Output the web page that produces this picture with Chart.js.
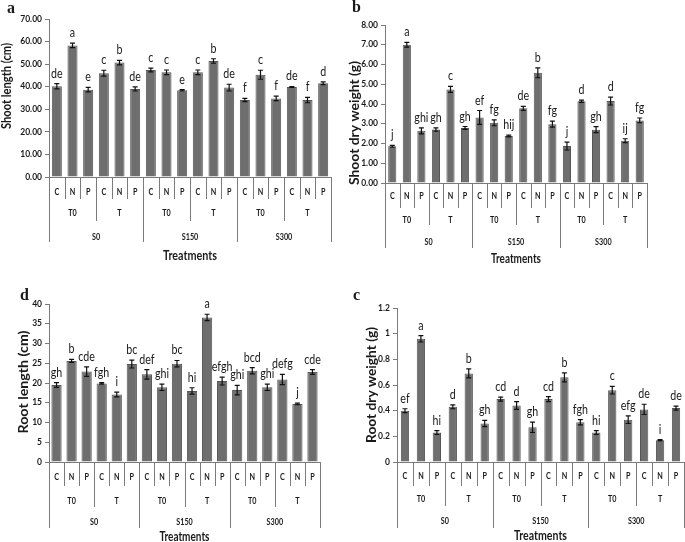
<!DOCTYPE html>
<html>
<head>
<meta charset="utf-8">
<script src="https://cdn.jsdelivr.net/npm/chart.js@4.4.1/dist/chart.umd.min.js"></script>
<style>
html,body{margin:0;padding:0;background:#fff;}
#wrap{position:relative;width:685px;height:542px;background:#fff;overflow:hidden;}
canvas{position:absolute;}
</style>
</head>
<body>
<div id="wrap">
<canvas id="pa" width="345" height="265" style="left:0;top:0"></canvas>
<canvas id="pb" width="340" height="265" style="left:345px;top:0"></canvas>
<canvas id="pd" width="345" height="272" style="left:0;top:270px"></canvas>
<canvas id="pc" width="340" height="272" style="left:345px;top:270px"></canvas>
</div>
<script>
// ---------- DATA ----------
const categories = ['C','N','P','C','N','P','C','N','P','C','N','P','C','N','P','C','N','P'];
const tLabels = ['T0','T','T0','T','T0','T'];
const sLabels = ['S0','S150','S300'];
const axisTitleX = 'Treatments';

// a: Shoot length (cm)
const shootLength      = [40.2,58.3,38.7,46.0,50.7,39.0,47.4,46.4,38.4,46.4,51.4,39.6,34.1,45.3,34.8,39.9,34.1,41.5];
const shootLengthErr   = [1.2,1.0,1.0,1.3,1.0,0.9,0.8,1.0,0.3,1.0,1.0,1.5,0.7,2.0,1.0,0.2,1.2,0.6];
const shootLengthSig   = ['de','a','e','c','b','de','c','c','e','c','b','de','f','c','f','de','f','d'];
const shootLengthTicks = [0,10,20,30,40,50,60,70];

// b: Shoot dry weight (g)
const shootDry      = [1.86,7.0,2.64,2.71,4.74,2.79,3.32,3.05,2.38,3.78,5.58,2.98,1.87,4.14,2.7,4.15,2.14,3.17];
const shootDryErr   = [0.05,0.12,0.15,0.08,0.15,0.07,0.35,0.15,0.04,0.1,0.25,0.15,0.2,0.06,0.15,0.2,0.1,0.12];
const shootDrySig   = ['j','a','ghi','gh','c','gh','ef','fg','hij','de','b','fg','j','d','gh','d','ij','fg'];
const shootDryTicks = [0,1,2,3,4,5,6,7,8];

// d: Root length (cm)
const rootLength      = [19.5,25.6,22.9,19.9,17.1,24.8,22.2,18.9,24.9,18.0,36.6,20.5,18.2,23.1,18.9,20.9,14.7,22.8];
const rootLengthErr   = [0.6,0.4,1.2,0.2,0.6,1.0,1.2,0.8,0.8,0.8,0.8,1.0,1.2,0.8,0.8,1.3,0.2,0.6];
const rootLengthSig   = ['gh','b','cde','fgh','i','bc','def','ghi','bc','hi','a','efgh','ghi','bcd','ghi','defg','j','cde'];
const rootLengthTicks = [0,5,10,15,20,25,30,35,40];

// c: Root dry weight (g)
const rootDry      = [0.40,0.96,0.23,0.43,0.69,0.30,0.49,0.44,0.27,0.49,0.66,0.31,0.23,0.56,0.33,0.41,0.17,0.42];
const rootDryErr   = [0.015,0.025,0.015,0.015,0.035,0.025,0.015,0.03,0.04,0.02,0.035,0.02,0.015,0.03,0.03,0.04,0.005,0.015];
const rootDrySig   = ['ef','a','hi','d','b','gh','cd','d','gh','cd','b','fgh','hi','c','efg','de','i','de'];
const rootDryTicks = [0,0.2,0.4,0.6,0.8,1.0,1.2];

// ---------- DRAWING ----------
const FONT = 'Lato, "Open Sans", sans-serif';
function txt(ctx, s, x, y, font, sx, align, base){
  ctx.save(); ctx.font = font; ctx.textAlign = align || 'center'; ctx.textBaseline = base || 'middle';
  ctx.translate(x, y); ctx.scale(sx, 1); ctx.fillText(s, 0, 0); ctx.restore();
}

function makePanel(id, cfg){
  const cv = document.getElementById(id);
  const W = cv.width, H = cv.height;
  const plugin = {
    id: 'deco_' + id,
    afterDatasetsDraw(chart){
      const ctx = chart.ctx, y = chart.scales.y, meta = chart.getDatasetMeta(0);
      ctx.save();
      ctx.strokeStyle = '#111'; ctx.lineWidth = 1.2;
      meta.data.forEach((bar, i) => {
        const v = cfg.values[i], e = cfg.errors[i];
        const yt = y.getPixelForValue(v + e), yb = y.getPixelForValue(v - e);
        const x = bar.x;
        ctx.beginPath();
        ctx.moveTo(x, yt); ctx.lineTo(x, yb);
        ctx.moveTo(x - 2.5, yt); ctx.lineTo(x + 2.5, yt);
        ctx.moveTo(x - 2.5, yb); ctx.lineTo(x + 2.5, yb);
        ctx.stroke();
        ctx.fillStyle = '#1a1a1a';
        txt(ctx, cfg.sig[i], x, yt - 6, '13px ' + FONT, 0.82, 'center', 'alphabetic');
      });
      ctx.restore();
    },
    afterDraw(chart){
      const ctx = chart.ctx, xs = chart.scales.x, a = chart.chartArea;
      const n = categories.length;
      const px = i => xs.getPixelForValue(i);
      ctx.save();
      ctx.strokeStyle = '#7a7a7a'; ctx.lineWidth = 1;
      for (let k = 0; k <= n; k++){
        let x;
        if (k === 0) x = a.left; else if (k === n) x = a.right; else x = (px(k - 1) + px(k)) / 2;
        let yEnd = cfg.catLine;
        if (k % 6 === 0) yEnd = cfg.sLine; else if (k % 3 === 0) yEnd = cfg.tLine;
        x = Math.round(x) + 0.5;
        ctx.beginPath(); ctx.moveTo(x, a.bottom); ctx.lineTo(x, yEnd); ctx.stroke();
      }
      ctx.fillStyle = '#1a1a1a';
      categories.forEach((c, i) => txt(ctx, c, px(i), cfg.catY, 'bold 9px ' + FONT, 0.8));
      tLabels.forEach((t, j) => txt(ctx, t, (px(3*j) + px(3*j + 2)) / 2, cfg.tY, 'bold 9px ' + FONT, 0.8));
      sLabels.forEach((s, j) => txt(ctx, s, (px(6*j) + px(6*j + 5)) / 2, cfg.sY, 'bold 9px ' + FONT, 0.8));
      // x-axis title
      ctx.font = 'bold 14px ' + FONT;
      let w = ctx.measureText(axisTitleX).width;
      txt(ctx, axisTitleX, (a.left + a.right) / 2, cfg.treatY, 'bold 14px ' + FONT, cfg.treatW / w);
      // y-axis title
      ctx.font = 'bold 13px ' + FONT;
      w = ctx.measureText(cfg.title).width;
      ctx.save();
      ctx.translate(cfg.titleX, cfg.titleY); ctx.rotate(-Math.PI / 2); ctx.scale(cfg.titleLen / w, 1);
      ctx.textAlign = 'center'; ctx.textBaseline = 'middle'; ctx.fillText(cfg.title, 0, 0);
      ctx.restore();
      // panel letter
      ctx.font = 'bold 16px "Liberation Serif", "DejaVu Serif", serif';
      ctx.textAlign = 'left'; ctx.textBaseline = 'alphabetic';
      ctx.fillText(cfg.letter, cfg.letterX, cfg.letterY);
      ctx.restore();
    }
  };
  return new Chart(cv, {
    type: 'bar',
    data: {
      labels: categories,
      datasets: [{
        data: cfg.values,
        backgroundColor: '#6e6e6e',
        borderColor: '#555555',
        borderWidth: 1,
        categoryPercentage: 1,
        barPercentage: cfg.barPct
      }]
    },
    options: {
      responsive: false,
      animation: false,
      devicePixelRatio: 1,
      layout: { padding: { left: 0, top: cfg.T, right: W - cfg.R, bottom: 0 } },
      plugins: { legend: { display: false }, tooltip: { enabled: false }, title: { display: false } },
      scales: {
        x: {
          grid: { display: false },
          border: { display: true, color: '#7a7a7a', width: 1 },
          ticks: { display: false },
          afterFit(s){ s.height = H - cfg.B; }
        },
        y: {
          min: cfg.ticks[0], max: cfg.ticks[cfg.ticks.length - 1],
          afterBuildTicks(s){ s.ticks = cfg.ticks.map(v => ({ value: v })); },
          ticks: {
            callback: v => cfg.fmt(v),
            font: { family: FONT, size: 8.5, weight: 'bold' },
            color: '#1a1a1a',
            padding: 3
          },
          grid: { drawOnChartArea: false, drawTicks: true, tickLength: 4, color: '#7a7a7a' },
          border: { display: true, color: '#7a7a7a', width: 1 },
          afterFit(s){ s.width = cfg.L; }
        }
      }
    },
    plugins: [plugin]
  });
}

makePanel('pa', {
  values: shootLength, errors: shootLengthErr, sig: shootLengthSig, ticks: shootLengthTicks,
  fmt: v => v.toFixed(2), title: 'Shoot length (cm)', letter: 'a',
  L: 49, T: 19, R: 331, B: 177, barPct: 0.64,
  catY: 192, catLine: 199, tY: 213, tLine: 221, sY: 237, sLine: 242, treatY: 255, treatW: 54,
  titleX: 7, titleY: 86, titleLen: 86, letterX: 7, letterY: 13
});
makePanel('pb', {
  values: shootDry, errors: shootDryErr, sig: shootDrySig, ticks: shootDryTicks,
  fmt: v => v.toFixed(2), title: 'Shoot dry weight (g)', letter: 'b',
  L: 40, T: 25, R: 302, B: 183, barPct: 0.56,
  catY: 196, catLine: 208, tY: 220, tLine: 225, sY: 242, sLine: 248, treatY: 258, treatW: 50,
  titleX: 10, titleY: 123, titleLen: 124, letterX: 7, letterY: 12
});
makePanel('pd', {
  values: rootLength, errors: rootLengthErr, sig: rootLengthSig, ticks: rootLengthTicks,
  fmt: v => String(v), title: 'Root length (cm)', letter: 'd',
  L: 49, T: 34, R: 320, B: 192, barPct: 0.68,
  catY: 207, catLine: 216, tY: 231, tLine: 237, sY: 252, sLine: 258, treatY: 266, treatW: 50,
  titleX: 24, titleY: 112, titleLen: 103, letterX: 20, letterY: 30
});
makePanel('pc', {
  values: rootDry, errors: rootDryErr, sig: rootDrySig, ticks: rootDryTicks,
  fmt: v => String(Math.round(v * 10) / 10), title: 'Root dry weight (g)', letter: 'c',
  L: 52, T: 38, R: 339, B: 192, barPct: 0.52,
  catY: 206, catLine: 216, tY: 229, tLine: 236, sY: 251, sLine: 258, treatY: 265, treatW: 53,
  titleX: 27, titleY: 115, titleLen: 116, letterX: 8, letterY: 30
});
</script>
</body>
</html>
